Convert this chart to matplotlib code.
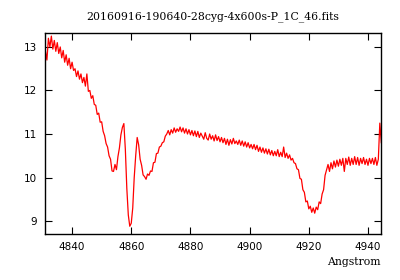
import numpy as np
import matplotlib
matplotlib.use("Agg")
import matplotlib.pyplot as plt

# spectrum header (dispersion axis), like CRVAL1 / CDELT1
crval1 = 4831.0
cdelt1 = 0.5

flux = [
    12.9, 12.7, 13.2, 13.0, 13.25, 12.95, 13.15, 12.9, 13.1, 12.85,
    13.0, 12.75, 12.92, 12.65, 12.82, 12.58, 12.74, 12.5, 12.65, 12.46,
    12.5, 12.32, 12.45, 12.26, 12.38, 12.18, 12.3, 12.1, 12.38, 11.98,
    12.0, 11.82, 11.88, 11.68, 11.66, 11.45, 11.48, 11.27, 11.28, 11.06,
    10.96, 10.78, 10.7, 10.5, 10.42, 10.15, 10.14, 10.3, 10.18, 10.48,
    10.68, 10.98, 11.15, 11.24, 10.65, 9.75, 9.14, 8.88, 8.95, 9.3,
    10.0, 10.5, 10.92, 10.75, 10.42, 10.28, 10.06, 10.02, 9.96, 10.08,
    10.05, 10.15, 10.14, 10.34, 10.35, 10.55, 10.56, 10.7, 10.72, 10.8,
    10.82, 10.95, 11.0, 11.08, 10.98, 11.1, 11.02, 11.14, 11.04, 11.12,
    11.06, 11.16, 11.05, 11.14, 11.02, 11.12, 11.0, 11.1, 10.98, 11.08,
    10.96, 11.07, 10.94, 11.06, 10.92, 11.02, 10.95, 10.88, 11.03, 10.9,
    10.86, 11.0, 10.88, 10.96, 10.84, 10.98, 10.85, 10.94, 10.82, 10.92,
    10.8, 10.9, 10.76, 10.88, 10.74, 10.87, 10.77, 10.9, 10.78, 10.84,
    10.76, 10.86, 10.74, 10.84, 10.72, 10.82, 10.7, 10.8, 10.68, 10.76,
    10.66, 10.76, 10.64, 10.74, 10.6, 10.7, 10.58, 10.68, 10.56, 10.66,
    10.54, 10.65, 10.52, 10.62, 10.5, 10.6, 10.5, 10.64, 10.48, 10.58,
    10.48, 10.7, 10.46, 10.56, 10.44, 10.52, 10.4, 10.44, 10.34, 10.32,
    10.2, 10.18, 9.98, 9.96, 9.72, 9.66, 9.44, 9.46, 9.28, 9.34,
    9.2, 9.3, 9.18, 9.32, 9.26, 9.44, 9.4, 9.62, 9.72, 10.05,
    10.18, 10.3, 10.14, 10.34, 10.2, 10.38, 10.24, 10.4, 10.26, 10.42,
    10.28, 10.44, 10.14, 10.44, 10.3, 10.47, 10.28, 10.44, 10.3, 10.48,
    10.3, 10.46, 10.28, 10.44, 10.32, 10.46, 10.3, 10.42, 10.28, 10.44,
    10.32, 10.44, 10.3, 10.46, 10.28, 10.42, 11.25, 10.8,
]
wave = crval1 + cdelt1 * np.arange(len(flux))

title = "20160916-190640-28cyg-4x600s-P_1C_46.fits"
xticks = [4840, 4860, 4880, 4900, 4920, 4940]
yticks = [9, 10, 11, 12, 13]

fig = plt.figure(figsize=(4, 2.8), dpi=100)
ax = fig.add_axes([0.1125, 0.164, 0.84, 0.718])
ax.plot(wave, flux, color="red", lw=0.9)

ax.set_xlim(4830.85, 4944.4)
ax.set_ylim(8.70, 13.32)
ax.set_xticks(xticks)
ax.set_yticks(yticks)
ax.tick_params(direction="in", top=True, right=True, length=5, width=0.8,
               labelsize=7.5, pad=6)
for s in ax.spines.values():
    s.set_linewidth(1)

ax.set_title(title, fontsize=7.8, family="DejaVu Serif", pad=10)
ax.set_xlabel("Angstrom", fontsize=7.8, family="DejaVu Serif", loc="right",
              labelpad=3)

fig.savefig("out.png", dpi=100)
